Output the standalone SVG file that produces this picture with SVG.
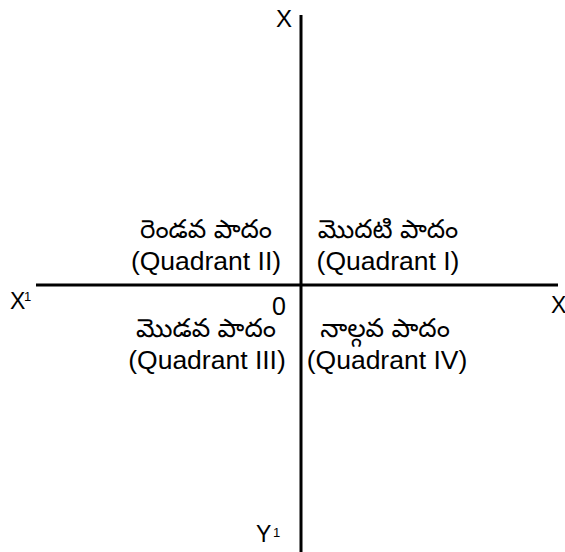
<svg xmlns="http://www.w3.org/2000/svg" width="565" height="552" viewBox="0 0 565 552">
<style>
.lbl{font-family:"Liberation Sans",Arial,sans-serif;fill:#000}
.q{font-size:26.5px;text-anchor:middle}
.te{font-family:"Noto Sans Telugu","Noto Sans","Liberation Sans",sans-serif;font-size:26px;text-anchor:middle;fill:#000}
.ax{font-size:23px}
.sup{font-size:13px}
.axis{stroke:#000;stroke-width:3;fill:none}
</style>
<rect width="565" height="552" fill="#fff"/>
<g id="connectors">
<line class="axis" x1="301" y1="15" x2="301" y2="552"/>
<line class="axis" x1="36" y1="285" x2="558" y2="285"/>
</g>
<g id="axis-labels">
<text class="lbl" x="276" y="27" font-size="24">X</text>
<text class="lbl ax" x="10" y="309">X</text><text class="lbl sup" x="24" y="301">1</text>
<text class="lbl ax" x="551" y="313">X</text>
<text class="lbl ax" x="256" y="542">Y</text><text class="lbl sup" x="273" y="537">1</text>
<text class="lbl" x="272" y="315" font-size="25">0</text>
</g>
<g id="q2">
<text class="te" x="206" y="238">రెండవ పాదం</text>
<text class="lbl q" x="206" y="270">(Quadrant II)</text>
</g>
<g id="q1">
<text class="te" x="388" y="238">మొదటి పాదం</text>
<text class="lbl q" x="388" y="270">(Quadrant I)</text>
</g>
<g id="q3">
<text class="te" x="206" y="337">మొడవ పాదం</text>
<text class="lbl q" x="207" y="369">(Quadrant III)</text>
</g>
<g id="q4">
<text class="te" x="385" y="337">నాల్గవ పాదం</text>
<text class="lbl q" x="387" y="369">(Quadrant IV)</text>
</g>
</svg>
